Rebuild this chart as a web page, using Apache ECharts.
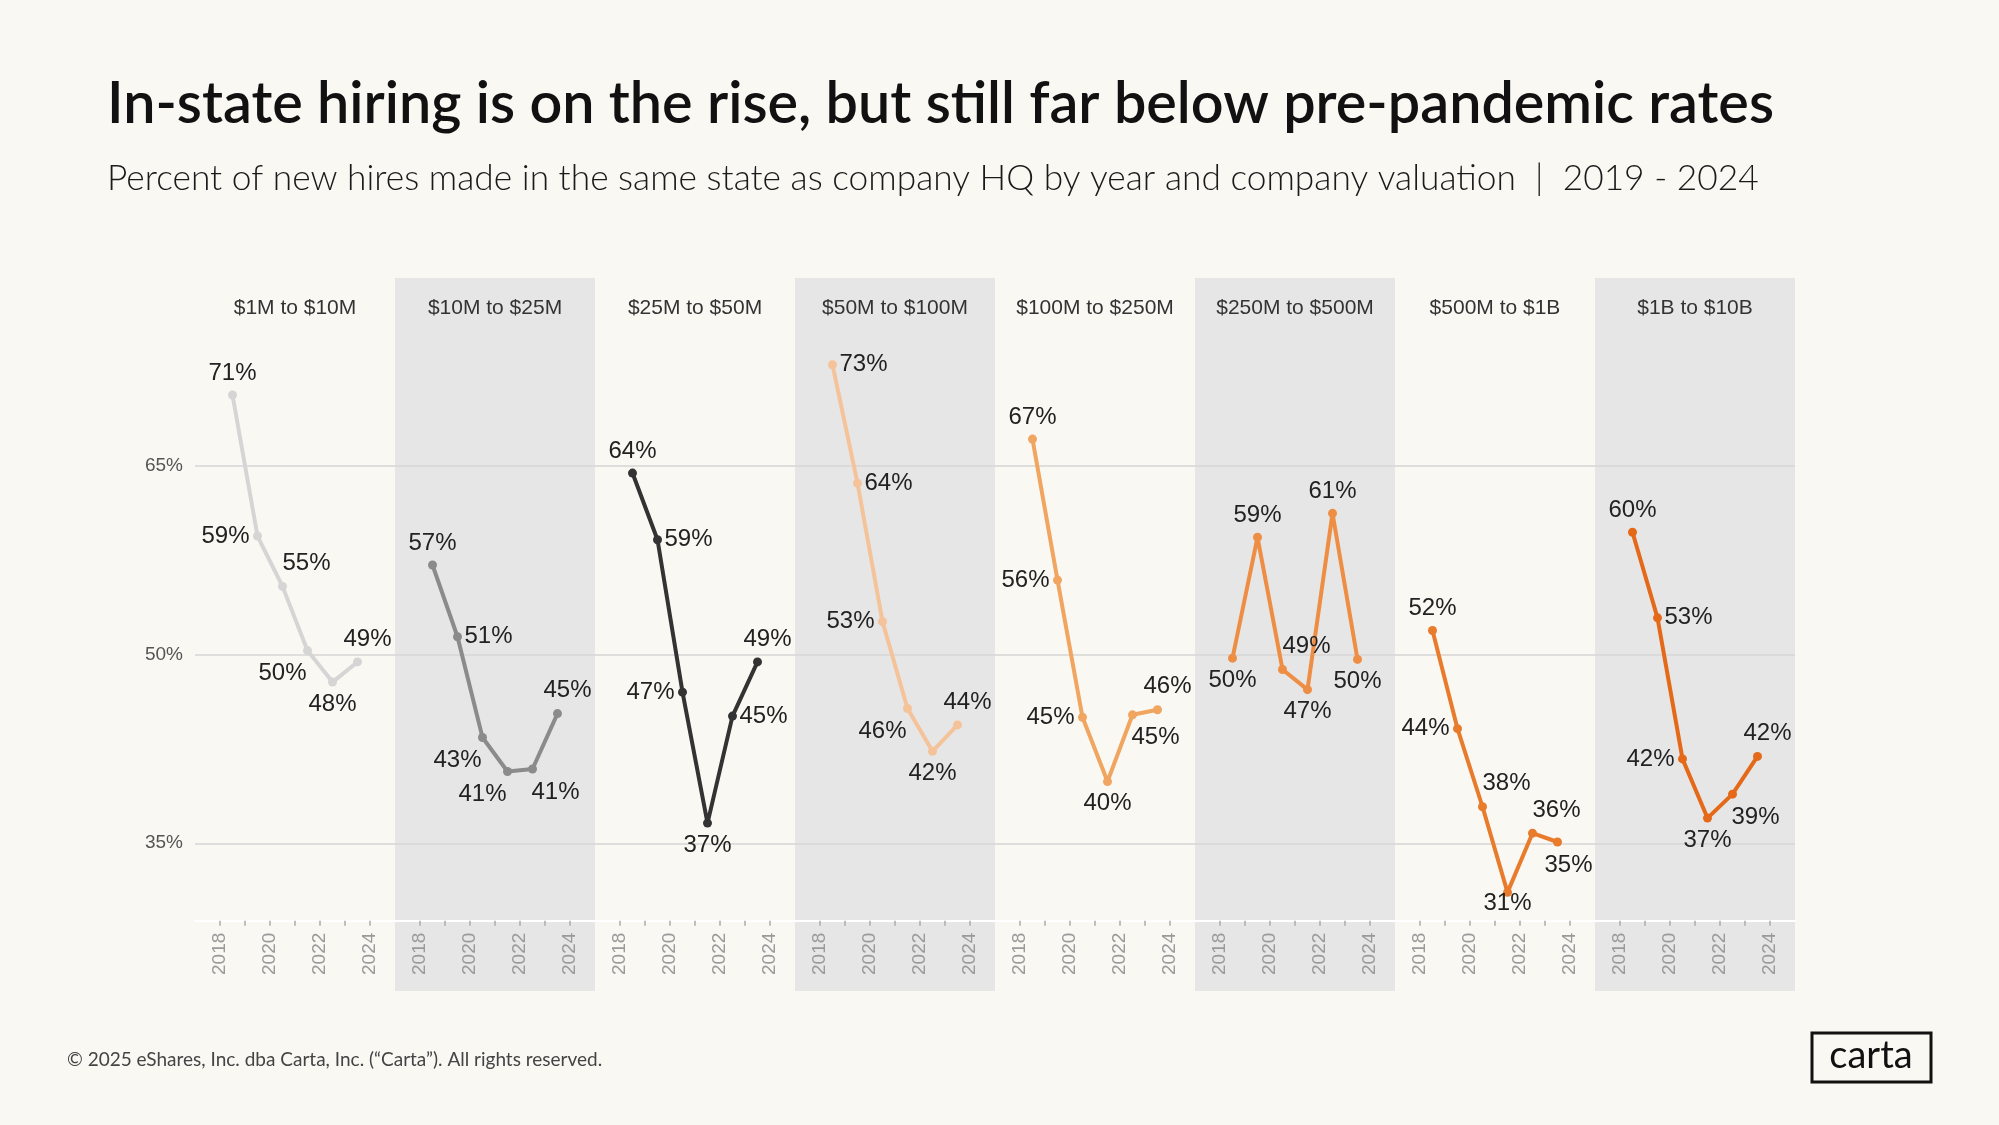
<!DOCTYPE html>
<html>
<head>
<meta charset="utf-8">
<title>In-state hiring</title>
<script src="https://cdn.jsdelivr.net/npm/echarts@6/dist/echarts.min.js"></script>
<style>
  html, body { margin: 0; height: 100%; background: #faf8f3; }
  #main { width: 1999px; height: 1125px; }
</style>
</head>
<body>
<div id="main"></div>
<script>
// valuation buckets (one small panel each)
var panels = ['$1M to $10M', '$10M to $25M', '$25M to $50M', '$50M to $100M',
  '$100M to $250M', '$250M to $500M', '$500M to $1B', '$1B to $10B'];
// where each yearly point sits on the year axis, as drawn
var yearX = [2018.5, 2019.5, 2020.5, 2021.5, 2022.5, 2023.5];
var xTickLabels = [2018, 2020, 2022, 2024];
var yTicks = [35, 50, 65];

// percent of new hires in HQ state
var v1M_10M = [70.6, 59.4, 55.4, 50.3, 47.8, 49.4];
var v10M_25M = [57.1, 51.4, 43.4, 40.7, 40.9, 45.3];
var v25M_50M = [64.4, 59.1, 47.0, 36.6, 45.1, 49.4];
var v50M_100M = [73.0, 63.6, 52.6, 45.7, 42.3, 44.4];
var v100M_250M = [67.1, 55.9, 45.0, 39.9, 45.2, 45.6];
var v250M_500M = [49.7, 59.3, 48.8, 47.2, 61.2, 49.6];
var v500M_1B = [51.9, 44.1, 37.9, 31.1, 35.8, 35.1];
var v1B_10B = [59.7, 52.9, 41.7, 37.0, 38.9, 41.9];
var allValues = [v1M_10M, v10M_25M, v25M_50M, v50M_100M, v100M_250M, v250M_500M, v500M_1B, v1B_10B];

var colors = ['#d5d5d5', '#8b8b8b', '#333333', '#f5c39a', '#f0a560', '#ee8e45', '#e97b2c', '#e46a1a'];

// label placement around each point
var offsets = {
  t: [0, -22], b: [0, 22], l: [-32, 0], r: [31, 0],
  tr: [10, -23], TR: [24, -23], br: [11, 23], BR: [23, 23], bl: [-25, 23], bs: [0, 11]
};
var labelPos = [
  ['t', 'l', 'TR', 'bl', 'b', 'tr'],
  ['t', 'r', 'bl', 'bl', 'BR', 'tr'],
  ['t', 'r', 'l', 'b', 'r', 'tr'],
  ['r', 'r', 'l', 'bl', 'b', 'tr'],
  ['t', 'l', 'l', 'b', 'BR', 'tr'],
  ['b', 't', 'TR', 'b', 't', 'b'],
  ['t', 'l', 'TR', 'bs', 'TR', 'br'],
  ['t', 'r', 'l', 'b', 'BR', 'tr']
];

var FONT = 'Liberation Sans';
var PL = 195, PW = 200, GT = 327, GH = 593.7;

var grids = [], xAxes = [], yAxes = [], series = [], graphics = [];

for (var i = 0; i < panels.length; i++) {
  var left = PL + PW * i;
  if (i % 2 === 1) {
    graphics.push({
      type: 'rect', z: -10,
      shape: { x: left, y: 278, width: PW, height: 713 },
      style: { fill: '#e6e6e6' }
    });
  }
  graphics.push({
    type: 'text', z: 5,
    style: {
      x: left + PW / 2, y: 308, text: panels[i], textAlign: 'center', textVerticalAlign: 'middle',
      font: '21px "' + FONT + '"', fill: '#333'
    }
  });

  grids.push({ left: left, top: GT, width: PW, height: GH });
  xAxes.push({
    gridIndex: i, type: 'value', min: 2017, max: 2025, interval: 1,
    splitLine: { show: false },
    axisLine: { show: true, lineStyle: { color: '#ffffff', width: 2 } },
    axisTick: { show: true, length: 5, customValues: [2018, 2019, 2020, 2021, 2022, 2023, 2024],
      lineStyle: { color: '#aaaaaa', width: 1.5 } },
    axisLabel: {
      rotate: 90, margin: 12, color: '#9a9a9a', fontSize: 19, fontFamily: FONT,
      customValues: xTickLabels,
      formatter: function (v) { return xTickLabels.indexOf(v) >= 0 ? String(v) : ''; }
    }
  });
  yAxes.push({ gridIndex: i, type: 'value', min: 28.85, max: 76, show: false });

  var vals = allValues[i];
  series.push({
    type: 'line', xAxisIndex: i, yAxisIndex: i,
    symbol: 'circle', symbolSize: 9,
    lineStyle: { color: colors[i], width: 4 },
    itemStyle: { color: colors[i] },
    label: {
      show: true, position: 'inside', fontSize: 24, fontFamily: FONT, color: '#222',
      formatter: function (p) { return Math.round(p.value[1]) + '%'; }
    },
    data: yearX.map(function (x, j) {
      return { value: [x, vals[j]], label: { offset: offsets[labelPos[i][j]] } };
    }),
    markLine: {
      silent: true, symbol: ['none', 'none'], animation: false, z: 1,
      lineStyle: { color: '#d6d6d6', width: 1.5, type: 'solid' },
      label: i === 0 ? {
        show: true, position: 'start', distance: 12, color: '#555', fontSize: 19, fontFamily: FONT,
        formatter: function (p) { return p.value + '%'; }
      } : { show: false },
      data: yTicks.map(function (t) { return { yAxis: t }; })
    },
    z: 3
  });
}

// titles, footer, logo
graphics.push(
  { type: 'text', style: { x: 107, y: 104, text: 'In-state hiring is on the rise, but still far below pre-pandemic rates',
    textVerticalAlign: 'middle', font: '600 57.5px Lato', fill: '#111' } },
  { type: 'text', style: { x: 107, y: 179, text: 'Percent of new hires made in the same state as company HQ by year and company valuation  |  2019 - 2024',
    textVerticalAlign: 'middle', font: '300 35.3px Lato', fill: '#1a1a1a' } },
  { type: 'text', style: { x: 67, y: 1060, text: '\u00a9 2025 eShares, Inc. dba Carta, Inc. (\u201cCarta\u201d). All rights reserved.',
    textVerticalAlign: 'middle', font: '19px Lato', fill: '#444' } },
  { type: 'rect', shape: { x: 1812, y: 1033, width: 119, height: 49 },
    style: { fill: 'none', stroke: '#111', lineWidth: 3 } },
  { type: 'text', style: { x: 1871, y: 1056, text: 'carta', textAlign: 'center', textVerticalAlign: 'middle',
    font: '38px Lato', fill: '#111' } }
);

var chart = echarts.init(document.getElementById('main'));
chart.setOption({
  backgroundColor: '#faf8f3',
  animation: false,
  grid: grids,
  xAxis: xAxes,
  yAxis: yAxes,
  series: series,
  graphic: graphics
});
</script>
</body>
</html>
